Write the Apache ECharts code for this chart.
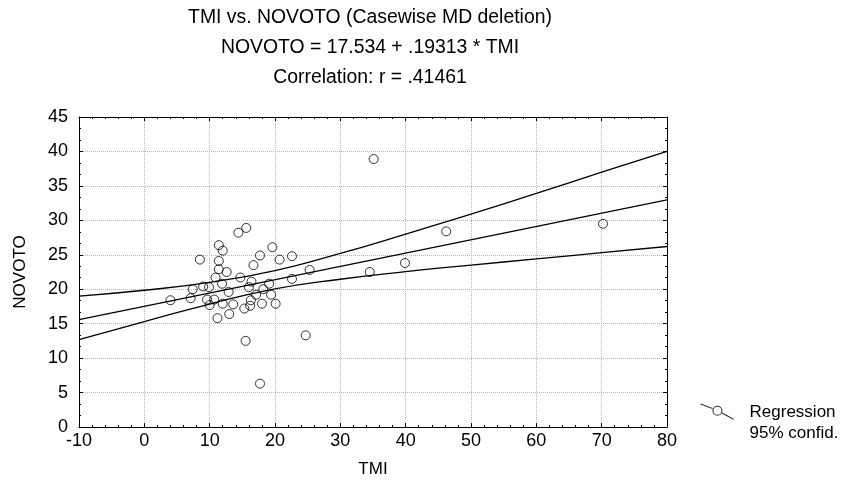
<!DOCTYPE html>
<html>
<head>
<meta charset="utf-8">
<script src="https://cdn.jsdelivr.net/npm/echarts@6/dist/echarts.min.js"></script>
<style>
html,body{margin:0;padding:0;background:#fff;}
#chart{width:851px;height:485px;}
</style>
</head>
<body>
<div id="chart"></div>
<script>
// ---- data ----
const tmi = [15.6,14.4,11.4,12.0,8.5,11.4,19.6,17.7,16.7,20.7,22.6,11.4,12.6,10.9,14.7,11.9,16.4,19.1,22.6,25.3,
             7.4,9.0,9.9,16.0,18.2,12.9,4.0,7.1,9.6,10.7,17.1,19.4,16.3,12.0,13.6,18.0,20.1,15.3,10.0,16.2,
             11.2,13.0,15.5,24.7,17.7,35.1,46.2,70.2,39.9,34.5];
const novoto = [28.9,28.2,26.4,25.6,24.3,24.1,26.1,24.9,23.5,24.3,24.8,22.9,22.5,21.7,21.7,20.8,21.1,20.8,21.5,22.8,
                20.0,20.4,20.3,20.3,20.0,19.6,18.4,18.7,18.5,18.5,19.2,19.2,18.4,17.9,17.8,17.9,17.9,17.2,17.7,17.6,
                15.8,16.4,12.5,13.3,6.3,38.9,28.4,29.5,23.8,22.5];
// regression equation (from the title)
const intercept = 17.534;
const slope = 0.19313;
// 95% confidence band, read at these TMI values
const bandX = [-10, 0, 10, 20, 30, 40, 50, 60, 70, 80];
const bandUpper = [19.0, 19.85, 21.0, 22.7, 25.2, 28.0, 30.9, 33.9, 37.0, 40.0];
const bandLower = [12.7, 15.3, 17.85, 20.05, 21.45, 22.55, 23.5, 24.4, 25.3, 26.2];
const titleLines = ['TMI vs. NOVOTO (Casewise MD deletion)', 'NOVOTO = 17.534 + .19313 * TMI', 'Correlation: r = .41461'];
const xName = 'TMI', yName = 'NOVOTO';
const legendLines = ['Regression', '95% confid.'];

// ---- build ----
const xMin = -10, xMax = 80, yMin = 0, yMax = 45;
const points = tmi.map((v, i) => [v, novoto[i]]);
const regLine = [xMin, xMax].map(x => [x, intercept + slope * x]);
const upper = bandX.map((x, i) => [x, bandUpper[i]]);
const lower = bandX.map((x, i) => [x, bandLower[i]]);

const FONT = 'Liberation Sans, Arial, sans-serif';
const gridLine = {show: true, lineStyle: {color: '#b4b4b4', width: 1, type: [1, 1]}};
function xAxisCfg(pos, main) {
  return {
    type: 'value', position: pos, min: xMin, max: xMax, interval: 10,
    name: main ? xName : '', nameLocation: 'middle', nameGap: 34,
    nameTextStyle: {fontFamily: FONT, fontSize: 17, color: '#000'},
    axisLine: {show: true, onZero: false, lineStyle: {color: '#000', width: 1}},
    axisTick: {show: true, inside: true, length: 4, lineStyle: {color: '#000'}},
    minorTick: {show: true, splitNumber: 5, length: 2, lineStyle: {color: '#000'}},
    axisLabel: {show: main, fontFamily: FONT, fontSize: 18, color: '#000', margin: 5},
    splitLine: main ? gridLine : {show: false}
  };
}
function yAxisCfg(pos, main) {
  return {
    type: 'value', position: pos, min: yMin, max: yMax, interval: 5,
    name: main ? yName : '', nameLocation: 'middle', nameGap: 50,
    nameTextStyle: {fontFamily: FONT, fontSize: 17, color: '#000'},
    axisLine: {show: true, onZero: false, lineStyle: {color: '#000', width: 1}},
    axisTick: {show: true, inside: true, length: 4, lineStyle: {color: '#000'}},
    minorTick: {show: true, splitNumber: 3, length: 2, lineStyle: {color: '#000'}},
    axisLabel: {show: main, fontFamily: FONT, fontSize: 18, color: '#000', margin: 11},
    splitLine: main ? gridLine : {show: false}
  };
}

const chart = echarts.init(document.getElementById('chart'), null, {renderer: 'canvas'});
chart.setOption({
  animation: false,
  backgroundColor: '#fff',
  title: {
    text: titleLines.join('\n'),
    left: 370, top: 3, padding: 0, textAlign: 'center',
    textStyle: {fontFamily: FONT, fontSize: 19.4, fontWeight: 'normal', color: '#000', lineHeight: 30}
  },
  grid: {left: 79, right: 184, top: 117, bottom: 58, containLabel: false},
  xAxis: [xAxisCfg('bottom', true), xAxisCfg('top', false)],
  yAxis: [yAxisCfg('left', true), yAxisCfg('right', false)],
  legend: {
    left: 700, top: 402, padding: 0,
    itemWidth: 44, itemHeight: 38,
    data: [{name: 'Regression',
            icon: 'path://M0,0L12,4.5M12.4,6.7A4.5,4.5,0,1,0,21.4,6.7A4.5,4.5,0,1,0,12.4,6.7M21,8.8L33,15.3M44,38L44,38'}],
    formatter: () => legendLines.join('\n'),
    textStyle: {fontFamily: FONT, fontSize: 17, color: '#000', lineHeight: 21},
    itemStyle: {color: 'rgba(0,0,0,0)', borderColor: '#000', borderWidth: 1.1},
    selectedMode: false
  },
  series: [
    {name: 'band-upper', type: 'line', data: upper, smooth: 0.5, symbol: 'none',
     lineStyle: {color: '#000', width: 1.3}, z: 2, silent: true},
    {name: 'band-lower', type: 'line', data: lower, smooth: 0.5, symbol: 'none',
     lineStyle: {color: '#000', width: 1.3}, z: 2, silent: true},
    {name: 'reg-line', type: 'line', data: regLine, symbol: 'none',
     lineStyle: {color: '#000', width: 1.3}, z: 2, silent: true},
    {name: 'Regression', type: 'scatter', data: points, symbol: 'circle', symbolSize: 9,
     itemStyle: {color: 'rgba(255,255,255,0)', borderColor: '#000', borderWidth: 1}, z: 3}
  ]
});
</script>
</body>
</html>
